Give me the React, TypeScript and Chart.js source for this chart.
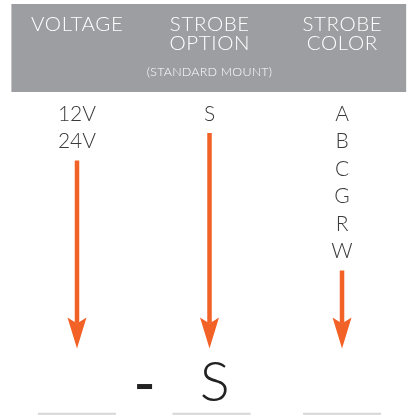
import React, { useEffect, useRef } from "react";
import { Chart, registerables } from "chart.js";

Chart.register(...registerables);

// ---- data ----
const columnTitles: string[][] = [["VOLTAGE"], ["STROBE", "OPTION"], ["STROBE", "COLOR"]];
const columnSubtitles: string[] = ["", "(STANDARD MOUNT)", ""];
const voltageOptions: string[] = ["12V", "24V"];
const strobeOptions: string[] = ["S"];
const colorOptions: string[] = ["A", "B", "C", "G", "R", "W"];
const partCodes: string[] = ["", "S", ""];
const separators: string[] = ["-"];

const optionLists = [voltageOptions, strobeOptions, colorOptions];

// ---- style ----
const ORANGE = "#f26126";
const HEADER_BG = "#9d9ea2";
const TEXT = "#3a3a3a";
const FONT = "Lato, 'Open Sans', sans-serif";
const ARROW_END_ROW = 7.62;
const ARROW_TIP_ROW = 8.53;

export default function App() {
  const ref = useRef<HTMLCanvasElement | null>(null);

  useEffect(() => {
    if (!ref.current) return;

    const datasets = optionLists.map((opts, c) => ({
      label: columnTitles[c].join(" "),
      data: [
        { x: c, y: opts.length - 0.31 },
        { x: c, y: ARROW_END_ROW },
      ],
      borderColor: ORANGE,
      borderWidth: 4.5,
      borderCapStyle: "butt" as const,
      pointRadius: 0,
      tension: 0,
    }));

    const diagramPlugin = {
      id: "diagram",
      beforeDatasetsDraw(chart: any) {
        const { ctx, scales } = chart;
        const xs = scales.x;
        const ys = scales.y;
        ctx.save();
        const x0 = xs.getPixelForValue(-0.495);
        const x1 = xs.getPixelForValue(2.484);
        const y0 = ys.getPixelForValue(-4.0);
        const y1 = ys.getPixelForValue(-0.8);
        ctx.fillStyle = HEADER_BG;
        ctx.fillRect(x0, y0, x1 - x0, y1 - y0);
        ctx.restore();
      },
      afterDatasetsDraw(chart: any) {
        const { ctx, scales } = chart;
        const xs = scales.x;
        const ys = scales.y;
        ctx.save();
        ctx.textAlign = "center";
        ctx.textBaseline = "middle";

        // header titles
        columnTitles.forEach((lines, c) => {
          const cx = xs.getPixelForValue(c);
          lines.forEach((t, i) => {
            ctx.fillStyle = "#ffffff";
            ctx.font = `300 20.5px ${FONT}`;
            (ctx as any).letterSpacing = "0.6px";
            ctx.fillText(t, cx + 0.3, ys.getPixelForValue(-3.27 + i * 0.69));
          });
          if (columnSubtitles[c]) {
            ctx.font = `300 12.5px ${FONT}`;
            (ctx as any).letterSpacing = "0.2px";
            ctx.fillText(columnSubtitles[c], cx, ys.getPixelForValue(-1.51));
          }
        });
        (ctx as any).letterSpacing = "0px";

        // options
        optionLists.forEach((opts, c) => {
          const cx = xs.getPixelForValue(c);
          ctx.fillStyle = TEXT;
          ctx.font = `300 21px ${FONT}`;
          opts.forEach((t, r) => {
            ctx.fillText(t, cx, ys.getPixelForValue(r));
          });
        });

        // arrow heads
        optionLists.forEach((_, c) => {
          const cx = xs.getPixelForValue(c);
          const base = ys.getPixelForValue(ARROW_END_ROW - 0.22);
          const tip = ys.getPixelForValue(ARROW_TIP_ROW);
          const notch = ys.getPixelForValue(ARROW_END_ROW);
          ctx.fillStyle = ORANGE;
          ctx.beginPath();
          ctx.moveTo(cx - 9.5, base);
          ctx.lineTo(cx, notch);
          ctx.lineTo(cx + 9.5, base);
          ctx.lineTo(cx, tip);
          ctx.closePath();
          ctx.fill();
        });

        // part number codes
        partCodes.forEach((t, c) => {
          if (!t) return;
          ctx.fillStyle = "#222222";
          ctx.font = `300 56px ${FONT}`;
          ctx.fillText(t, xs.getPixelForValue(c + 0.04), ys.getPixelForValue(9.78));
        });
        separators.forEach((_, i) => {
          const cx = xs.getPixelForValue(i + 0.51);
          const cy = ys.getPixelForValue(9.91);
          ctx.fillStyle = "#222222";
          ctx.fillRect(cx - 7.5, cy - 2.5, 15, 5);
        });

        // underlines
        optionLists.forEach((_, c) => {
          const cx = xs.getPixelForValue(c + (c === 1 ? 0.015 : 0));
          const y = ys.getPixelForValue(10.9);
          ctx.fillStyle = "#d6d6d6";
          ctx.fillRect(cx - 39, y - 1, 78, 2);
        });

        ctx.restore();
      },
    };

    const chart = new Chart(ref.current, {
      type: "line",
      data: { datasets },
      options: {
        animation: false,
        responsive: false,
        devicePixelRatio: 1,
        layout: { padding: 0 },
        scales: {
          x: { type: "linear", display: false, min: -0.581, max: 2.528 },
          y: { type: "linear", display: false, reverse: true, min: -4.145, max: 10.945 },
        },
        plugins: { legend: { display: false }, tooltip: { enabled: false } },
      },
      plugins: [diagramPlugin],
    });
    return () => chart.destroy();
  }, []);

  return (
    <div style={{ position: "fixed", left: 0, top: 0, width: 412, height: 415, background: "#fff" }}>
      <canvas ref={ref} width={412} height={415} style={{ display: "block" }} />
    </div>
  );
}
